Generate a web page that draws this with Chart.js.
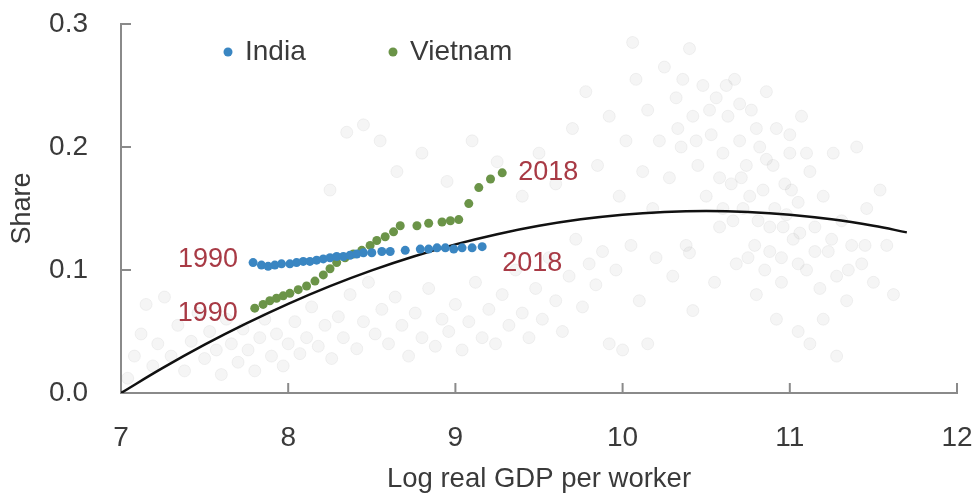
<!DOCTYPE html>
<html lang="en">
<head>
<meta charset="UTF-8">
<title>Share vs log real GDP per worker</title>
<script src="https://cdn.jsdelivr.net/npm/chart.js"></script>
<style>
    html, body {
        margin: 0;
        padding: 0;
        background: #ffffff;
    }
    .chart-box {
        position: relative;
        width: 976px;
        height: 501px;
    }
</style>
</head>
<body>
<div class="chart-box">
    <canvas id="shareChart" width="976" height="501"></canvas>
</div>
<script>
    // axis ticks
    const xTicks = [7, 8, 9, 10, 11, 12];
    const yTicks = [0, 0.1, 0.2, 0.3];

    // India, 1990-2018
    const indiaX = [7.79, 7.84, 7.88, 7.92, 7.96, 8.01, 8.05, 8.09, 8.13, 8.17,
                    8.21, 8.25, 8.29, 8.33, 8.37, 8.41, 8.45, 8.50, 8.56, 8.61,
                    8.70, 8.79, 8.84, 8.89, 8.94, 8.99, 9.04, 9.10, 9.16];
    const indiaY = [0.106, 0.104, 0.103, 0.104, 0.105, 0.105, 0.106, 0.107, 0.107, 0.108,
                    0.109, 0.110, 0.111, 0.111, 0.112, 0.113, 0.114, 0.114, 0.115, 0.115,
                    0.116, 0.117, 0.117, 0.118, 0.118, 0.117, 0.118, 0.118, 0.119];

    // Vietnam, 1990-2018
    const vietnamX = [7.80, 7.85, 7.89, 7.93, 7.97, 8.01, 8.06, 8.11, 8.16, 8.21,
                      8.25, 8.29, 8.34, 8.39, 8.44, 8.49, 8.53, 8.58, 8.63, 8.67,
                      8.77, 8.84, 8.92, 8.97, 9.02, 9.08, 9.14, 9.21, 9.28];
    const vietnamY = [0.069, 0.072, 0.075, 0.077, 0.079, 0.081, 0.084, 0.087, 0.091, 0.096,
                      0.101, 0.106, 0.110, 0.113, 0.116, 0.120, 0.124, 0.127, 0.131, 0.136,
                      0.136, 0.138, 0.139, 0.140, 0.141, 0.154, 0.167, 0.174, 0.179];

    // fitted curve
    const fitX = [7, 7.25, 7.5, 7.75, 8, 8.25, 8.5, 8.75, 9, 9.25,
                  9.5, 9.75, 10, 10.25, 10.5, 10.75, 11, 11.25, 11.5, 11.7];
    const fitY = [0, 0.0204, 0.0393, 0.0566, 0.0725, 0.0869, 0.0997, 0.111, 0.1208, 0.1291,
                  0.1359, 0.1412, 0.145, 0.1472, 0.148, 0.1472, 0.145, 0.1412, 0.1359, 0.1306];

    // faint background countries
    const cloudX = [7.04, 7.08, 7.12, 7.15, 7.19, 7.22, 7.26, 7.30, 7.34, 7.38,
                    7.42, 7.46, 7.50, 7.53, 7.57, 7.60, 7.63, 7.66, 7.70, 7.73,
                    7.76, 7.80, 7.83, 7.86, 7.90, 7.93, 7.97, 8.00, 8.04, 8.07,
                    8.11, 8.14, 8.18, 8.22, 8.26, 8.30, 8.33, 8.37, 8.41, 8.45,
                    8.48, 8.52, 8.56, 8.60, 8.64, 8.68, 8.72, 8.76, 8.80, 8.84,
                    8.88, 8.92, 8.96, 9.00, 9.04, 9.08, 9.12, 9.16, 9.20, 9.24,
                    9.28, 9.32, 9.36, 9.40, 9.44, 9.48, 9.52, 9.56, 9.60, 9.64,
                    9.68, 9.72, 9.76, 9.80, 9.84, 9.88, 9.92, 9.96, 10.00, 10.05,
                    8.25, 8.35, 8.45, 8.55, 8.65, 8.80, 8.95, 9.10, 9.25, 9.40,
                    9.50, 9.60, 9.70, 9.78, 9.85, 9.92, 9.98, 10.02, 10.06, 10.08,
                    10.12, 10.15, 10.18, 10.22, 10.25, 10.28, 10.32, 10.35, 10.38, 10.40,
                    10.42, 10.45, 10.48, 10.50, 10.53, 10.56, 10.58, 10.60, 10.63, 10.65,
                    10.67, 10.70, 10.72, 10.74, 10.77, 10.79, 10.82, 10.84, 10.86, 10.88,
                    10.90, 10.92, 10.95, 10.97, 11.00, 11.02, 11.05, 11.07, 11.10, 11.12,
                    11.15, 11.18, 11.20, 11.23, 11.26, 11.28, 11.31, 11.34, 11.37, 11.40,
                    11.43, 11.46, 11.50, 11.54, 11.58, 11.62, 11.05, 11.12, 11.20, 11.28,
                    10.42, 10.40, 10.55, 10.68, 10.80, 10.92, 10.30, 10.20, 10.10, 10.15,
                    10.60, 10.66, 10.71, 10.76, 10.81, 10.86, 10.91, 10.96, 11.01, 11.06,
                    10.75, 10.85, 10.95, 11.05, 11.15, 11.25, 11.35, 11.45, 10.88, 10.98,
                    10.33, 10.44, 10.52, 10.62, 10.36, 10.58, 10.70, 10.80, 11.00, 11.10];
    const cloudY = [0.012, 0.030, 0.048, 0.072, 0.022, 0.040, 0.078, 0.030, 0.055, 0.018,
                    0.042, 0.065, 0.028, 0.050, 0.035, 0.015, 0.060, 0.040, 0.025, 0.052,
                    0.035, 0.018, 0.045, 0.060, 0.030, 0.048, 0.022, 0.040, 0.058, 0.032,
                    0.045, 0.070, 0.038, 0.055, 0.028, 0.062, 0.045, 0.080, 0.036, 0.058,
                    0.090, 0.048, 0.068, 0.040, 0.078, 0.055, 0.030, 0.065, 0.045, 0.085,
                    0.038, 0.060, 0.050, 0.072, 0.035, 0.058, 0.090, 0.045, 0.068, 0.040,
                    0.080, 0.055, 0.100, 0.065, 0.045, 0.085, 0.060, 0.110, 0.075, 0.050,
                    0.095, 0.125, 0.070, 0.105, 0.088, 0.115, 0.040, 0.100, 0.035, 0.120,
                    0.165, 0.212, 0.218, 0.205, 0.180, 0.195, 0.172, 0.205, 0.188, 0.160,
                    0.195, 0.170, 0.215, 0.245, 0.185, 0.225, 0.160, 0.205, 0.285, 0.255,
                    0.180, 0.230, 0.150, 0.205, 0.265, 0.175, 0.240, 0.200, 0.120, 0.280,
                    0.225, 0.185, 0.250, 0.160, 0.210, 0.240, 0.135, 0.195, 0.225, 0.170,
                    0.255, 0.205, 0.150, 0.185, 0.230, 0.120, 0.200, 0.165, 0.245, 0.135,
                    0.185, 0.215, 0.110, 0.170, 0.195, 0.125, 0.155, 0.225, 0.100, 0.180,
                    0.135, 0.085, 0.160, 0.115, 0.195, 0.095, 0.140, 0.075, 0.120, 0.200,
                    0.105, 0.150, 0.090, 0.165, 0.120, 0.080, 0.050, 0.040, 0.060, 0.030,
                    0.067, 0.114, 0.090, 0.105, 0.080, 0.060, 0.095, 0.110, 0.075, 0.040,
                    0.150, 0.140, 0.175, 0.160, 0.140, 0.190, 0.150, 0.135, 0.165, 0.130,
                    0.110, 0.100, 0.090, 0.105, 0.115, 0.125, 0.100, 0.120, 0.115, 0.145,
                    0.215, 0.205, 0.230, 0.250, 0.255, 0.175, 0.235, 0.215, 0.210, 0.195];

    const FONT = '"Liberation Sans", Arial, sans-serif';
    const axisColor = '#8a8a8a';
    const textColor = '#3a3a3a';
    const yearColor = '#a83a45';
    const indiaColor = '#3a86c2';
    const vietnamColor = '#6b9448';

    const toPoints = (xs, ys) => xs.map((x, i) => ({ x: x, y: ys[i] }));

    // inward ticks, year labels and the legend inside the plot
    const decorPlugin = {
        id: 'decor',
        afterDraw(chart) {
            const { ctx, chartArea, scales: { x, y } } = chart;
            ctx.save();
            ctx.strokeStyle = axisColor;
            ctx.lineWidth = 2;
            yTicks.forEach(v => {
                if (v === yTicks[0]) return;
                const py = y.getPixelForValue(v);
                ctx.beginPath();
                ctx.moveTo(chartArea.left, py);
                ctx.lineTo(chartArea.left + 10, py);
                ctx.stroke();
            });
            xTicks.forEach(v => {
                if (v === xTicks[0]) return;
                const px = x.getPixelForValue(v);
                ctx.beginPath();
                ctx.moveTo(px, chartArea.bottom);
                ctx.lineTo(px, chartArea.bottom - 10);
                ctx.stroke();
            });

            // year labels next to the first and last points
            ctx.font = '27px ' + FONT;
            ctx.fillStyle = yearColor;
            ctx.textBaseline = 'middle';
            const last = indiaX.length - 1;
            ctx.textAlign = 'right';
            ctx.fillText('1990', x.getPixelForValue(indiaX[0]) - 15, y.getPixelForValue(indiaY[0]) - 3);
            ctx.fillText('1990', x.getPixelForValue(vietnamX[0]) - 17, y.getPixelForValue(vietnamY[0]) + 5);
            ctx.textAlign = 'left';
            ctx.fillText('2018', x.getPixelForValue(vietnamX[last]) + 16, y.getPixelForValue(vietnamY[last]));
            ctx.fillText('2018', x.getPixelForValue(indiaX[last]) + 20, y.getPixelForValue(indiaY[last]) + 17);

            // legend
            ctx.font = '28px ' + FONT;
            const ly = chartArea.top + 28;
            const items = [['India', indiaColor, chartArea.left + 107], ['Vietnam', vietnamColor, chartArea.left + 272]];
            items.forEach(([label, color, lx]) => {
                ctx.beginPath();
                ctx.fillStyle = color;
                ctx.arc(lx, ly, 4.5, 0, Math.PI * 2);
                ctx.fill();
                ctx.fillStyle = textColor;
                ctx.fillText(label, lx + 17, ly);
            });
            ctx.restore();
        }
    };

    const ctx = document.getElementById('shareChart').getContext('2d');
    const shareChart = new Chart(ctx, {
        type: 'scatter',
        data: {
            datasets: [
                {
                    label: 'India',
                    data: toPoints(indiaX, indiaY),
                    backgroundColor: indiaColor,
                    borderColor: indiaColor,
                    borderWidth: 0,
                    pointRadius: 4.5
                },
                {
                    label: 'Vietnam',
                    data: toPoints(vietnamX, vietnamY),
                    backgroundColor: vietnamColor,
                    borderColor: vietnamColor,
                    borderWidth: 0,
                    pointRadius: 4.5
                },
                {
                    label: 'Fit',
                    data: toPoints(fitX, fitY),
                    showLine: true,
                    borderColor: '#111111',
                    borderWidth: 2.5,
                    pointRadius: 0,
                    tension: 0.4,
                    fill: false
                },
                {
                    label: 'Other countries',
                    data: toPoints(cloudX, cloudY),
                    backgroundColor: 'rgba(140,140,140,0.09)',
                    borderColor: 'rgba(140,140,140,0.10)',
                    borderWidth: 1,
                    pointRadius: 6
                }
            ]
        },
        options: {
            responsive: false,
            animation: false,
            layout: {
                padding: { top: 24, right: 19, bottom: 0, left: 0 }
            },
            plugins: {
                legend: { display: false },
                tooltip: { enabled: false }
            },
            scales: {
                x: {
                    type: 'linear',
                    min: 7,
                    max: 12,
                    afterBuildTicks: s => { s.ticks = xTicks.map(v => ({ value: v })); },
                    afterFit: s => { s.height = 108; },
                    // transparent tick marks only push the labels away from the axis
                    grid: { display: true, drawOnChartArea: false, drawTicks: true, tickLength: 28, tickColor: 'rgba(0,0,0,0)' },
                    border: { display: true, color: axisColor, width: 2 },
                    ticks: {
                        padding: 0,
                        color: textColor,
                        font: { family: FONT, size: 28 },
                        callback: v => String(v)
                    },
                    title: {
                        display: true,
                        text: 'Log real GDP per worker',
                        color: textColor,
                        font: { family: FONT, size: 27.5 },
                        padding: { top: 0, bottom: 5 }
                    }
                },
                y: {
                    min: 0,
                    max: 0.3,
                    afterBuildTicks: s => { s.ticks = yTicks.map(v => ({ value: v })); },
                    afterFit: s => { s.width = 121; },
                    grid: { display: true, drawOnChartArea: false, drawTicks: true, tickLength: 33, tickColor: 'rgba(0,0,0,0)' },
                    border: { display: true, color: axisColor, width: 2 },
                    ticks: {
                        padding: 0,
                        color: textColor,
                        font: { family: FONT, size: 28 },
                        callback: v => v.toFixed(1)
                    },
                    title: {
                        display: true,
                        text: 'Share',
                        color: textColor,
                        font: { family: FONT, size: 27 },
                        padding: { top: 6, bottom: 0 }
                    }
                }
            }
        },
        plugins: [decorPlugin]
    });
</script>
</body>
</html>
